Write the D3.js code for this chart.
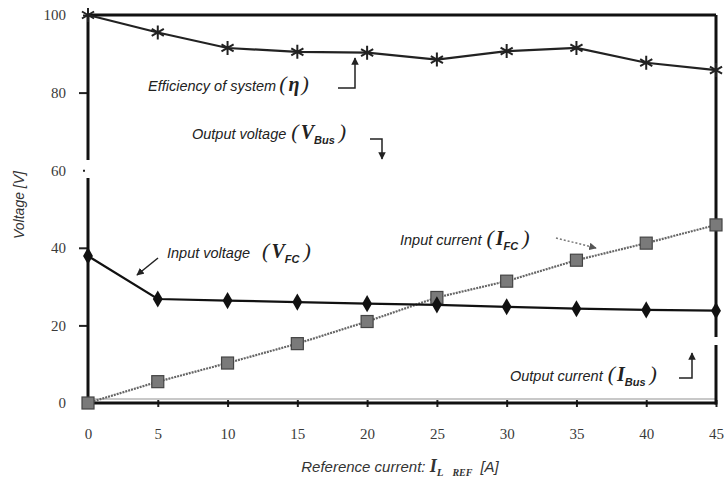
<!DOCTYPE html>
<html><head><meta charset="utf-8">
<script src="https://cdn.jsdelivr.net/npm/d3@7"></script>
<style>
html,body{margin:0;padding:0;background:#fff;}
svg{display:block;}
</style></head>
<body><svg id="c" width="728" height="478"></svg>
<script>
// ---- data ----
const current = [0, 5, 10, 15, 20, 25, 30, 35, 40, 45];
const efficiency = [100, 95.5, 91.5, 90.5, 90.3, 88.5, 90.7, 91.5, 87.7, 85.8];
const inputVoltage = [37.9, 26.8, 26.4, 26.0, 25.6, 25.3, 24.8, 24.3, 24.0, 23.8];
const inputCurrent = [0, 5.5, 10.3, 15.3, 21.0, 27.2, 31.4, 36.8, 41.2, 45.9];
const outputCurrent = [1, 1, 1, 1, 1, 1, 1, 1, 1, 1];
const xTicks = [0, 5, 10, 15, 20, 25, 30, 35, 40, 45];
const yTicks = [0, 20, 40, 60, 80, 100];

const sans = "'Liberation Sans',Arial,sans-serif";
const serif = "'Liberation Serif','Times New Roman',serif";

const svg = d3.select("#c");
const x = d3.scaleLinear().domain([0, 45]).range([88, 716]);
const y = d3.scaleLinear().domain([0, 100]).range([403, 15]);

// faint output current line near zero
svg.append("path")
  .attr("d", d3.line().x((d,i)=>x(current[i])).y(d=>y(d))(outputCurrent))
  .attr("fill","none").attr("stroke","#c8c8c8").attr("stroke-width",2);

// axes
const xAxis = svg.append("g").attr("transform","translate(0,403)")
  .call(d3.axisBottom(x).tickValues(xTicks).tickSize(5).tickPadding(20).tickFormat(d3.format("d")))
  .attr("font-family", serif).attr("font-size", 15);
xAxis.select(".domain").remove();
xAxis.selectAll(".tick text").attr("fill","#3a3a3a");
xAxis.selectAll(".tick line").attr("y1",-3).attr("y2",4).attr("stroke","#222").attr("stroke-width",2);

const yAxis = svg.append("g").attr("transform","translate(88,0)")
  .call(d3.axisLeft(y).tickValues(yTicks).tickSize(9).tickPadding(13).tickFormat(d3.format("d")))
  .attr("font-family", serif).attr("font-size", 15);
yAxis.select(".domain").remove();
yAxis.selectAll(".tick text").attr("fill","#3a3a3a");
yAxis.selectAll(".tick line").attr("stroke","#222").attr("stroke-width",2)
  .attr("x2", d => d === 60 ? -5 : (d === 0 || d === 100 ? -5 : -9))
  .attr("x1", d => d === 60 ? -3 : 0);

// frame
const fr = svg.append("g").attr("stroke","#111").attr("stroke-width",3).attr("fill","none");
fr.append("line").attr("x1",x(0)).attr("x2",x(45)).attr("y1",y(100)).attr("y2",y(100));
fr.append("line").attr("x1",x(0)).attr("x2",x(45)).attr("y1",y(0)).attr("y2",y(0));
fr.append("line").attr("x1",x(0)).attr("x2",x(0)).attr("y1",y(100)).attr("y2",160);
fr.append("line").attr("x1",x(0)).attr("x2",x(0)).attr("y1",178).attr("y2",y(0));
fr.append("line").attr("x1",x(45)).attr("x2",x(45)).attr("y1",y(100)).attr("y2",337);
fr.append("line").attr("x1",x(45)).attr("x2",x(45)).attr("y1",345).attr("y2",y(0)+1.5);

// lines
const line = arr => d3.line().x((d,i)=>x(current[i])).y(d=>y(d))(arr);
svg.append("path").attr("d",line(inputCurrent)).attr("fill","none")
  .attr("stroke","#666").attr("stroke-width",2.2).attr("stroke-dasharray","2,1");
svg.append("path").attr("d",line(efficiency)).attr("fill","none")
  .attr("stroke","#222").attr("stroke-width",2.2);
svg.append("path").attr("d",line(inputVoltage)).attr("fill","none")
  .attr("stroke","#111").attr("stroke-width",2.2);

// markers
svg.append("g").selectAll("rect").data(inputCurrent).join("rect")
  .attr("x",(d,i)=>x(current[i])-6).attr("y",d=>y(d)-6).attr("width",12).attr("height",12)
  .attr("fill","#7a7a7a").attr("stroke","#444").attr("stroke-width",1.2);
svg.append("g").selectAll("path").data(inputVoltage).join("path")
  .attr("transform",(d,i)=>`translate(${x(current[i])},${y(d)})`)
  .attr("d", d3.symbol().type(d3.symbolDiamond).size(85))
  .attr("fill","#111");
const star = {draw(ctx,size){const r=Math.sqrt(size)/2;
  for(const a of [90,30,150]){const t=a*Math.PI/180;
    ctx.moveTo(-r*Math.cos(t),-r*Math.sin(t)); ctx.lineTo(r*Math.cos(t),r*Math.sin(t));}}};
svg.append("g").selectAll("path").data(efficiency).join("path")
  .attr("transform",(d,i)=>`translate(${x(current[i])},${y(d)})`)
  .attr("d", d3.symbol().type(star).size(196))
  .attr("fill","none").attr("stroke","#222").attr("stroke-width",2);

// axis titles
const xt = svg.append("text").attr("x",400).attr("y",472).attr("text-anchor","middle")
  .attr("font-family",sans).attr("font-style","italic").attr("font-size",15).attr("fill","#333");
xt.append("tspan").text("Reference current: ");
xt.append("tspan").attr("font-family",serif).attr("font-size",18).attr("font-weight","bold").text("I");
xt.append("tspan").attr("font-family",serif).attr("font-size",11).attr("font-weight","bold").attr("dy",4).text("L");
xt.append("tspan").attr("font-family",serif).attr("font-size",10).attr("font-weight","bold").attr("dx",9).text("REF");
xt.append("tspan").attr("dy",-4).attr("dx",8).text("[A]");

svg.append("text").attr("transform","translate(24,205) rotate(-90)").attr("text-anchor","middle")
  .attr("font-family",sans).attr("font-style","italic").attr("font-size",14).attr("fill","#333")
  .text("Voltage [V]");

// annotations
function label(xp, yp, txt, sym, sub, gap){
  const t = svg.append("text").attr("x",xp).attr("y",yp).attr("font-family",sans)
    .attr("font-style","italic").attr("font-size",14.5).attr("fill","#222");
  t.append("tspan").text(txt);
  t.append("tspan").attr("dx",gap||5).attr("font-family",serif).attr("font-size",22).text("(");
  t.append("tspan").attr("dx",2).attr("font-family",serif).attr("font-size",20).attr("font-weight","bold").text(sym);
  if(sub){ t.append("tspan").attr("font-family",sans).attr("font-size",11).attr("font-weight","bold")
      .attr("dy",5).text(sub);
    t.append("tspan").attr("font-family",serif).attr("font-size",22).attr("dy",-5).attr("dx",4).text(")"); }
  else t.append("tspan").attr("dx",2).attr("font-family",serif).attr("font-size",22).text(")");
}
label(148, 91, "Efficiency of system", "η", null, 3);
label(192, 139, "Output voltage", "V", "Bus");
label(167, 258, "Input voltage", "V", "FC", 12);
label(400, 245, "Input current", "I", "FC");
label(510, 381, "Output current", "I", "Bus");

const defs = svg.append("defs");
defs.append("marker").attr("id","ah").attr("viewBox","0 0 10 10").attr("refX",9).attr("refY",5)
  .attr("markerWidth",5).attr("markerHeight",5).attr("orient","auto")
  .append("path").attr("d","M0,0L10,5L0,10z").attr("fill","#222");
defs.append("marker").attr("id","ahg").attr("viewBox","0 0 10 10").attr("refX",9).attr("refY",5)
  .attr("markerWidth",5).attr("markerHeight",5).attr("orient","auto")
  .append("path").attr("d","M0,0L10,5L0,10z").attr("fill","#555");
const arrow = (d, gray) => svg.append("path").attr("d",d).attr("fill","none")
  .attr("stroke", gray ? "#777" : "#222").attr("stroke-width",1.5)
  .attr("stroke-dasharray", gray ? "2,2" : null)
  .attr("marker-end", gray ? "url(#ahg)" : "url(#ah)");
arrow("M338,88H355V58");
arrow("M370,139H382V159");
arrow("M158,258L137,275");
arrow("M556,238L596,248", true);
arrow("M679,378H692V353");
</script></body></html>
